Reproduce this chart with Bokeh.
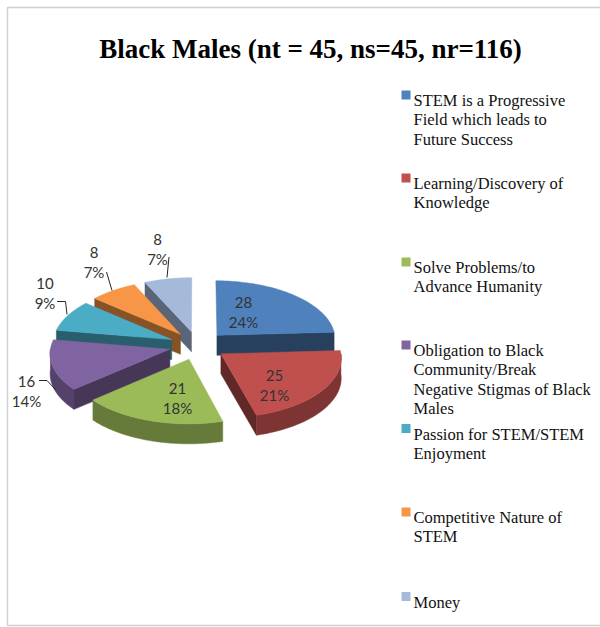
import numpy as np
from bokeh.plotting import figure
from bokeh.models import Range1d
from bokeh.embed import file_html
from bokeh.resources import INLINE
from bokeh.core.properties import value

# ---------------- data ----------------
TITLE = "Black Males (nt = 45, ns=45, nr=116)"
categories = [
    "STEM is a Progressive Field which leads to Future Success",
    "Learning/Discovery of Knowledge",
    "Solve Problems/to Advance Humanity",
    "Obligation to Black Community/Break Negative Stigmas of Black Males",
    "Passion for STEM/STEM Enjoyment",
    "Competitive Nature of STEM",
    "Money",
]
legend_lines = [
    ["STEM is a Progressive", "Field which leads to", "Future Success"],
    ["Learning/Discovery of", "Knowledge"],
    ["Solve Problems/to", "Advance Humanity"],
    ["Obligation to Black", "Community/Break", "Negative Stigmas of Black", "Males"],
    ["Passion for STEM/STEM", "Enjoyment"],
    ["Competitive Nature of", "STEM"],
    ["Money"],
]
counts = [28, 25, 21, 16, 10, 8, 8]
percent_labels = ["24%", "21%", "18%", "14%", "9%", "7%", "7%"]
colors = ["#4F81BD", "#C0504D", "#9BBB59", "#8064A2", "#4BACC6", "#F79646", "#A5B9DA"]

# ---------------- layout constants ----------------
W, H = 600, 627
CX, CY, RX, RY, DEPTH, EXPL, PERSP = 197, 345, 119, 59, 20, 0.24, 0.06

# data-label anchors (centre x, first-line baseline y) and leader lines
label_pos = [(243, 302), (274, 374.5), (177, 387.5), (26, 381), (44.5, 283), (93.5, 252), (157, 239)]
leaders = [None, None, None,
           ([38.5, 46.5, 55], [380, 380, 389]),
           ([56.5, 65, 66.5], [301, 301, 314]),
           ([106, 111.5], [271.5, 290]),
           ([168.5, 166.5], [256.5, 277])]
legend_first_baseline = [100, 183, 267, 350, 433.5, 517, 601.5]
LEG_SQ_X, LEG_TX, LEG_LH = 405.5, 413, 19.3


def shade(hexc, f):
    hexc = hexc.lstrip("#")
    r, g, b = (int(hexc[i:i + 2], 16) for i in (0, 2, 4))
    return "#%02x%02x%02x" % (int(r * f), int(g * f), int(b * f))


def proj(u, v, h):
    u = np.asarray(u, float)
    v = np.asarray(v, float)
    s = 1.0 / (1.0 + PERSP * v)
    return CX + RX * u * s, CY - RY * v * s + DEPTH * h


p = figure(width=W, height=H, output_backend="svg", toolbar_location=None,
           x_range=Range1d(0, W), y_range=Range1d(H, 0),
           x_axis_type=None, y_axis_type=None, min_border=0,
           background_fill_color="white", border_fill_color="white")
p.grid.visible = False
p.outline_line_color = None

# frame border
p.line([W + 2, 7, 7, W + 2], [7, 7, 625, 625], line_color="#d0d0d0", line_width=1.5)

# ---------------- 3D pie ----------------
total = float(sum(counts))
bounds = np.concatenate([[0.0], np.cumsum(counts)]) / total * 2 * np.pi
slices = []
for i in range(len(counts)):
    a0, a1 = bounds[i], bounds[i + 1]
    am = 0.5 * (a0 + a1)
    ou, ov = EXPL * np.sin(am), EXPL * np.cos(am)
    faces = []
    vx_t = proj(ou, ov, 0)
    vx_b = proj(ou, ov, 1)
    # start wall
    if np.sin(a0) < -1e-6:
        rt = proj(ou + np.sin(a0), ov + np.cos(a0), 0)
        rb = proj(ou + np.sin(a0), ov + np.cos(a0), 1)
        faces.append(([float(vx_t[0]), float(rt[0]), float(rb[0]), float(vx_b[0])],
                      [float(vx_t[1]), float(rt[1]), float(rb[1]), float(vx_b[1])],
                      shade(colors[i], 0.55)))
    # end wall
    if np.sin(a1) > 1e-6:
        rt = proj(ou + np.sin(a1), ov + np.cos(a1), 0)
        rb = proj(ou + np.sin(a1), ov + np.cos(a1), 1)
        faces.append(([float(vx_t[0]), float(rt[0]), float(rb[0]), float(vx_b[0])],
                      [float(vx_t[1]), float(rt[1]), float(rb[1]), float(vx_b[1])],
                      shade(colors[i], 0.5)))
    # outer curved wall (front part)
    lo, hi = max(a0, np.pi / 2), min(a1, 3 * np.pi / 2)
    if hi > lo:
        t = np.linspace(lo, hi, 60)
        xt, yt = proj(ou + np.sin(t), ov + np.cos(t), 0)
        xb, yb = proj(ou + np.sin(t), ov + np.cos(t), 1)
        faces.append((list(xt) + list(xb[::-1]), list(yt) + list(yb[::-1]), shade(colors[i], 0.66)))
    # top face
    t = np.linspace(a0, a1, 80)
    xt, yt = proj(ou + np.sin(t), ov + np.cos(t), 0)
    faces.append(([float(vx_t[0])] + list(xt), [float(vx_t[1])] + list(yt), colors[i]))
    slices.append((ov, faces))

slices.sort(key=lambda s: -s[0])
xs, ys, fc = [], [], []
for _, faces in slices:
    for fx, fy, c in faces:
        xs.append([float(v) for v in fx])
        ys.append([float(v) for v in fy])
        fc.append(c)
p.patches(xs, ys, fill_color=fc, line_color=fc, line_width=0.5)

# ---------------- data labels ----------------
lab_x, lab_y, lab_t = [], [], []
for i, (lx, ly) in enumerate(label_pos):
    lab_x += [lx, lx]
    lab_y += [ly, ly + 19.5]
    lab_t += [str(counts[i]), percent_labels[i]]
p.text(lab_x, lab_y, text=lab_t, text_align="center", text_baseline="alphabetic",
       text_font=value("Lato"), text_font_size="15px", text_color="#333333")
lx_list = [l[0] for l in leaders if l]
ly_list = [l[1] for l in leaders if l]
p.multi_line(lx_list, ly_list, line_color="#262626", line_width=1)

# ---------------- title ----------------
p.text([310], [48.3], text=[TITLE], text_align="center", text_baseline="alphabetic",
       text_font=value("Liberation Serif"), text_font_size="27px", text_font_style="bold",
       text_color="#000000")

# ---------------- legend ----------------
sq_y = [b - 5.5 for b in legend_first_baseline]
p.scatter([LEG_SQ_X] * len(colors), sq_y, marker="square", size=9, fill_color=colors, line_color=None)
tx, ty, tt = [], [], []
for i, lines in enumerate(legend_lines):
    for j, ln in enumerate(lines):
        tx.append(LEG_TX)
        ty.append(legend_first_baseline[i] + j * LEG_LH)
        tt.append(ln)
p.text(tx, ty, text=tt, text_align="left", text_baseline="alphabetic",
       text_font=value("Liberation Serif"), text_font_size="16.5px", text_color="#111111")

open("out.html", "w").write(file_html(p, INLINE))
